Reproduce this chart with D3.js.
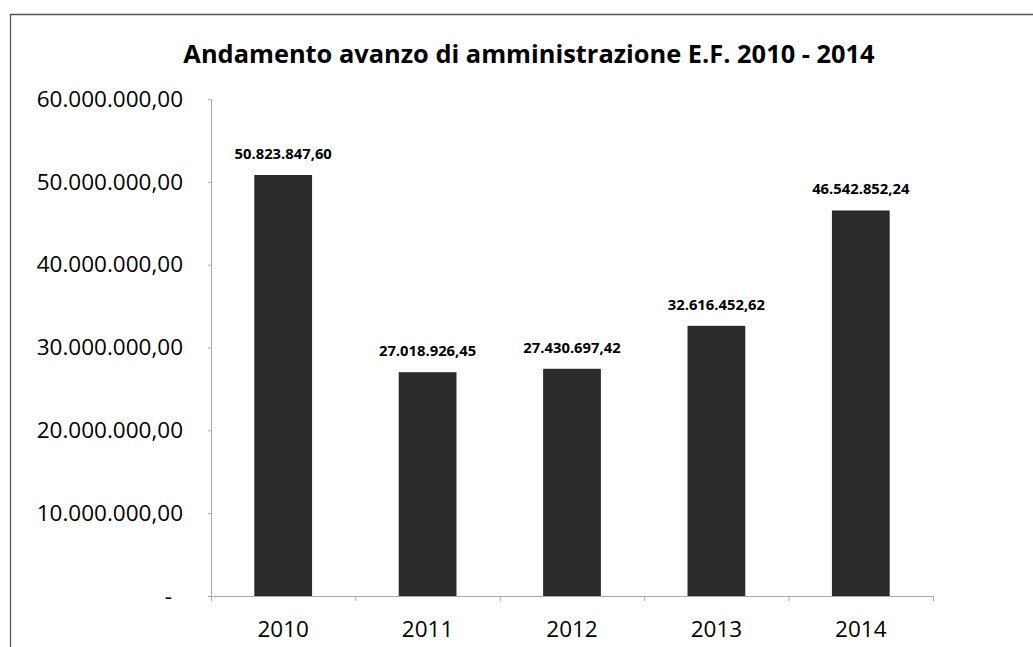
<!DOCTYPE html>
<html><head><meta charset="utf-8">
<script src="https://cdn.jsdelivr.net/npm/d3@7"></script>
<style>
body{margin:0;background:#fff;}
text{font-family:"Open Sans","Noto Sans",sans-serif;fill:#000;}
</style></head>
<body>
<svg id="c" width="1033" height="647"></svg>
<script>
const title = "Andamento avanzo di amministrazione E.F. 2010 - 2014";
const categories = ["2010","2011","2012","2013","2014"];
const values = [50823847.60, 27018926.45, 27430697.42, 32616452.62, 46542852.24];
const yTicks = [0, 10000000, 20000000, 30000000, 40000000, 50000000, 60000000];

const it = d3.formatLocale({decimal:",", thousands:".", grouping:[3], currency:["€",""]});
const fmt = it.format(",.2f");

const svg = d3.select("#c");
const m = {left:211, right:933, top:99, bottom:596};

// outer border
svg.append("path").attr("d","M10.5,660 L10.5,14.5 L1040,14.5")
  .attr("fill","none").attr("stroke","#555").attr("stroke-width",1.3);

const x = d3.scaleBand().domain(categories).range([m.left,m.right]).paddingInner(0.6).paddingOuter(0.3);
const y = d3.scaleLinear().domain([0,60000000]).range([m.bottom,m.top]);

svg.append("text").attr("x",529).attr("y",63).attr("text-anchor","middle")
  .attr("font-size",25.4).attr("font-weight","bold").text(title);

// y axis
const ya = svg.append("g").attr("transform",`translate(${m.left},0)`)
  .call(d3.axisLeft(y).tickValues(yTicks).tickSize(3).tickPadding(25)
    .tickFormat(d => d===0 ? "-" : fmt(d)));
ya.select(".domain").attr("stroke","#aaa");
ya.selectAll(".tick line").attr("stroke","#aaa");
ya.selectAll(".tick text").attr("font-size",22.5).attr("fill","#000")
  .attr("dx", d => d===0 ? -11 : 0);

// bars
svg.append("g").selectAll("rect").data(values).join("rect")
  .attr("x",(d,i)=>x(categories[i])).attr("width",x.bandwidth())
  .attr("y",d=>y(d)).attr("height",d=>y(0)-y(d)).attr("fill","#2a2a2a");

// value labels
svg.append("g").selectAll("text").data(values).join("text")
  .attr("x",(d,i)=>x(categories[i])+x.bandwidth()/2).attr("y",d=>y(d)-16)
  .attr("text-anchor","middle").attr("font-size",14.8).attr("font-weight","bold")
  .text(d=>fmt(d));

// x axis
const xl = d3.scaleLinear().domain([0,categories.length]).range([m.left,m.right]);
const xa = svg.append("g").attr("transform",`translate(0,${m.bottom})`)
  .call(d3.axisBottom(xl).ticks(5).tickSize(5).tickFormat(""));
xa.select(".domain").attr("stroke","#aaa");
xa.selectAll(".tick line").attr("stroke","#aaa");
svg.append("g").selectAll("text").data(categories).join("text")
  .attr("x",d=>x(d)+x.bandwidth()/2).attr("y",637).attr("text-anchor","middle")
  .attr("font-size",22.5).text(d=>d);
</script>
</body></html>
